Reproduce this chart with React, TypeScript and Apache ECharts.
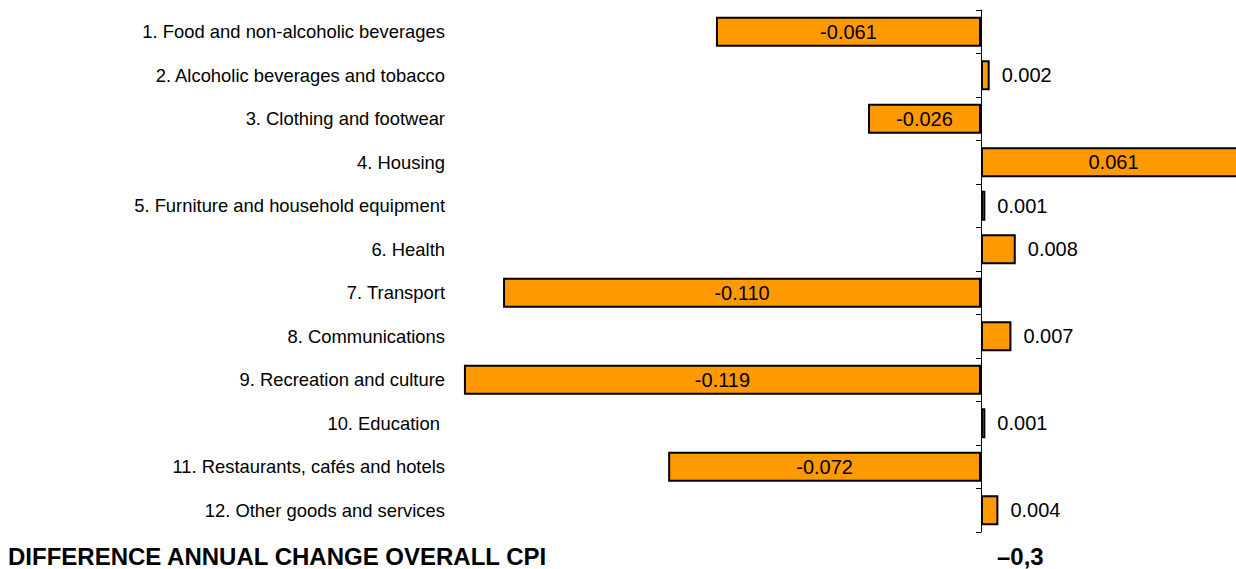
import React, { useEffect, useRef } from "react";
import * as echarts from "echarts";

const categories: string[] = [
  "1. Food and non-alcoholic beverages",
  "2. Alcoholic beverages and tobacco",
  "3. Clothing and footwear",
  "4. Housing",
  "5. Furniture and household equipment",
  "6. Health",
  "7. Transport",
  "8. Communications",
  "9. Recreation and culture",
  "10. Education ",
  "11. Restaurants, cafés and hotels",
  "12. Other goods and services",
];

const values: number[] = [
  -0.061, 0.002, -0.026, 0.061, 0.001, 0.008, -0.11, 0.007, -0.119, 0.001,
  -0.072, 0.004,
];

const footerLabel = "DIFFERENCE ANNUAL CHANGE OVERALL CPI";
const footerValue = "\u20130,3";

const FONT = "'Liberation Sans', Arial, sans-serif";

const X_MIN = -0.12;
const X_MAX = 0.08;
const PX_PER_UNIT = 4345;
const ZERO_X = 981;
const GRID_LEFT = ZERO_X + X_MIN * PX_PER_UNIT;
const GRID_WIDTH = (X_MAX - X_MIN) * PX_PER_UNIT;
const LABEL_RIGHT = 445;

export default function App() {
  const ref = useRef<HTMLDivElement>(null);

  useEffect(() => {
    if (!ref.current) return;
    const chart = echarts.init(ref.current, undefined, { renderer: "svg" });

    const data = values.map((v) => {
      const inside = v < 0 || v > 0.03;
      return {
        value: v,
        label: {
          position: inside ? "inside" : "right",
          distance: 12,
        },
      };
    });

    chart.setOption({
      animation: false,
      backgroundColor: "#ffffff",
      textStyle: { fontFamily: FONT },
      grid: {
        left: GRID_LEFT,
        top: 10,
        width: GRID_WIDTH,
        height: 522,
        containLabel: false,
        outerBoundsMode: "none",
      },
      xAxis: {
        type: "value",
        min: X_MIN,
        max: X_MAX,
        show: false,
        splitLine: { show: false },
      },
      yAxis: [
        {
          type: "category",
          inverse: true,
          position: "left",
          data: categories,
          axisLine: { show: true, onZero: true, lineStyle: { color: "#000", width: 1 } },
          axisTick: { show: true, length: 5, lineStyle: { color: "#000" } },
          axisLabel: { show: false },
          z: 5,
        },
        {
          type: "category",
          inverse: true,
          position: "left",
          offset: 0,
          data: categories,
          axisLine: { show: false, onZero: false },
          axisTick: { show: false },
          axisLabel: {
            margin: GRID_LEFT - LABEL_RIGHT,
            color: "#000",
            fontSize: 18.4,
            fontFamily: FONT,
            align: "right",
          },
        },
      ],
      series: [
        {
          type: "bar",
          yAxisIndex: 0,
          data,
          barWidth: 30,
          itemStyle: { color: "#FF9900", borderColor: "#000", borderWidth: 2 },
          label: {
            show: true,
            color: "#000",
            fontSize: 20,
            fontFamily: FONT,
            formatter: (p: any) => Number(p.value).toFixed(3),
          },
          z: 1,
        },
      ],
      graphic: [
        {
          type: "text",
          left: 8,
          top: 544,
          style: {
            text: footerLabel,
            fontSize: 24,
            fontWeight: "bold",
            fontFamily: FONT,
            fill: "#000",
          },
        },
        {
          type: "text",
          left: 997,
          top: 544,
          style: {
            text: footerValue,
            fontSize: 24,
            fontWeight: "bold",
            fontFamily: FONT,
            fill: "#000",
          },
        },
      ],
    });

    return () => chart.dispose();
  }, []);

  return (
    <div
      ref={ref}
      style={{ position: "absolute", left: 0, top: 0, width: 1236, height: 569 }}
    />
  );
}
